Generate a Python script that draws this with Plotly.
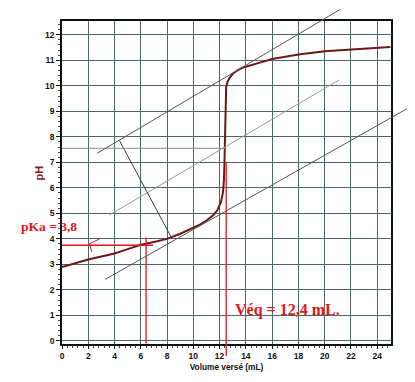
import plotly.graph_objects as go

# ---- titration curve ----
volume_ml = [0, 1, 2, 3, 4, 5, 6, 7, 8, 9, 10, 10.5, 11, 11.5, 11.85, 12.1, 12.25,
             12.33, 12.37, 12.4, 12.42, 12.45, 12.5, 12.6, 12.75, 13.0, 13.4, 13.8,
             14.4, 15, 16, 17, 18, 20, 22, 24, 25]
ph_values = [2.9, 3.05, 3.19, 3.31, 3.43, 3.6, 3.77, 3.88, 4.0, 4.2, 4.43, 4.56, 4.72,
             4.92, 5.14, 5.45, 5.8, 6.3, 7.0, 8.0, 9.0, 9.6, 9.95, 10.15, 10.3, 10.47,
             10.62, 10.72, 10.82, 10.9, 11.05, 11.15, 11.23, 11.35, 11.42, 11.48, 11.52]

x_tick_values = [0, 2, 4, 6, 8, 10, 12, 14, 16, 18, 20, 22, 24]
y_tick_values = [0, 1, 2, 3, 4, 5, 6, 7, 8, 9, 10, 11, 12]

# ---- construction lines (tangent method) ----
upper_tangent_x = [2.56, 21.2]
upper_tangent_y = [7.32, 13.0]
middle_line_x = [3.62, 21.1]
middle_line_y = [4.94, 10.23]
lower_tangent_x = [3.17, 26.95]
lower_tangent_y = [2.38, 9.3]
perp_line_x = [4.38, 8.3]
perp_line_y = [7.85, 4.08]
ph_eq_x = [0, 12.4]
ph_eq_y = [7.55, 7.55]

pka_value = 3.75
pka_line_x = [0, 6.93]
half_veq = 6.4
half_veq_y = [-0.1, 4.05]
veq_value = 12.5
veq_line_y = [-0.65, 7.0]
pka_mark_x = [2.86, 2.1, 2.27]
pka_mark_y = [4.0, 3.81, 3.48]

pka_label = "pKa = 3,8"
veq_label = "Véq = 12,4 mL."
x_title = "Volume versé (mL)"
y_title = "pH"

GRID = "#4a6866"
RED = "#e8141b"
CURVE = "#6e1717"

fig = go.Figure()
fig.add_trace(go.Scatter(x=volume_ml, y=ph_values, mode="lines",
                         line=dict(color=CURVE, width=2), showlegend=False,
                         hoverinfo="skip"))

shapes = []
def seg(xs, ys, color, width):
    shapes.append(dict(type="line", xref="x", yref="y", x0=xs[0], y0=ys[0],
                       x1=xs[1], y1=ys[1], line=dict(color=color, width=width)))

seg(middle_line_x, middle_line_y, "#9a9a9a", 1)
seg(perp_line_x, perp_line_y, "#3a3a3a", 1)
seg(ph_eq_x, ph_eq_y, "#8a8a8a", 1)
seg(pka_line_x, [pka_value, pka_value], RED, 1.3)
seg([half_veq, half_veq], half_veq_y, RED, 1.3)
path = "M %s,%s L %s,%s L %s,%s" % (pka_mark_x[0], pka_mark_y[0], pka_mark_x[1],
                                   pka_mark_y[1], pka_mark_x[2], pka_mark_y[2])
shapes.append(dict(type="path", xref="x", yref="y", path=path,
                   line=dict(color=RED, width=1)))

annotations = []
def long_seg(xs, ys, color, width):
    # annotation arrows are not clipped to the plot area
    annotations.append(dict(x=xs[1], y=ys[1], ax=xs[0], ay=ys[0], xref="x", yref="y",
                            axref="x", ayref="y", text="", showarrow=True,
                            arrowhead=0, arrowwidth=width, arrowcolor=color,
                            standoff=0, startstandoff=0))

long_seg(upper_tangent_x, upper_tangent_y, "#555555", 1)
long_seg(lower_tangent_x, lower_tangent_y, "#555555", 1)
long_seg([veq_value, veq_value], veq_line_y, RED, 1.3)

annotations.append(dict(x=-0.128, xref="paper", y=4.49, yref="y", text=pka_label,
                        showarrow=False, xanchor="left", yanchor="middle",
                        borderpad=0,
                        font=dict(family="Liberation Serif", size=13.5, color=RED,
                                  weight="bold")))
annotations.append(dict(x=13.0, xref="x", y=1.2, yref="y", text=veq_label,
                        showarrow=False, xanchor="left", yanchor="middle",
                        font=dict(family="Liberation Serif", size=16, color=RED,
                                  weight="bold")))
annotations.append(dict(x=-0.07, xref="paper", y=6.6, yref="y", text=y_title,
                        showarrow=False, textangle=-90, xanchor="center",
                        yanchor="middle",
                        font=dict(family="Liberation Sans", size=11, color="#8b1a1a",
                                  weight="bold")))

tickfont = dict(family="Liberation Sans", size=8.5, color="#111", weight="bold")

# the page body has an 8px margin, so the figure is shifted by 8px
fig.update_layout(
    width=407, height=374,
    margin=dict(l=54, r=24, t=11, b=35),
    paper_bgcolor="white", plot_bgcolor="white",
    shapes=shapes, annotations=annotations,
    xaxis=dict(range=[0, 25.05], tickvals=x_tick_values, ticks="outside", ticklen=3,
               tickcolor="#111", showline=True, linecolor="#111", linewidth=1.5,
               mirror=True, showgrid=True, gridcolor=GRID, gridwidth=1.3,
               zeroline=False, tickfont=tickfont,
               minor=dict(dtick=0.4, tick0=0, ticks="outside", ticklen=2,
                          tickcolor="#444", showgrid=False),
               title=dict(text=x_title, standoff=4,
                          font=dict(family="Liberation Sans", size=8.3,
                                    color="#111", weight="bold"))),
    yaxis=dict(range=[-0.12, 12.54], tickvals=y_tick_values, ticks="outside", ticklen=4,
               tickcolor="#111", showline=True, linecolor="#111", linewidth=1.5,
               mirror=True, showgrid=True, gridcolor=GRID, gridwidth=1.3,
               zeroline=False, tickfont=tickfont,
               minor=dict(dtick=0.2, tick0=0, ticks="outside", ticklen=2,
                          tickcolor="#444", showgrid=False)),
)

fig.write_html("out.html")
